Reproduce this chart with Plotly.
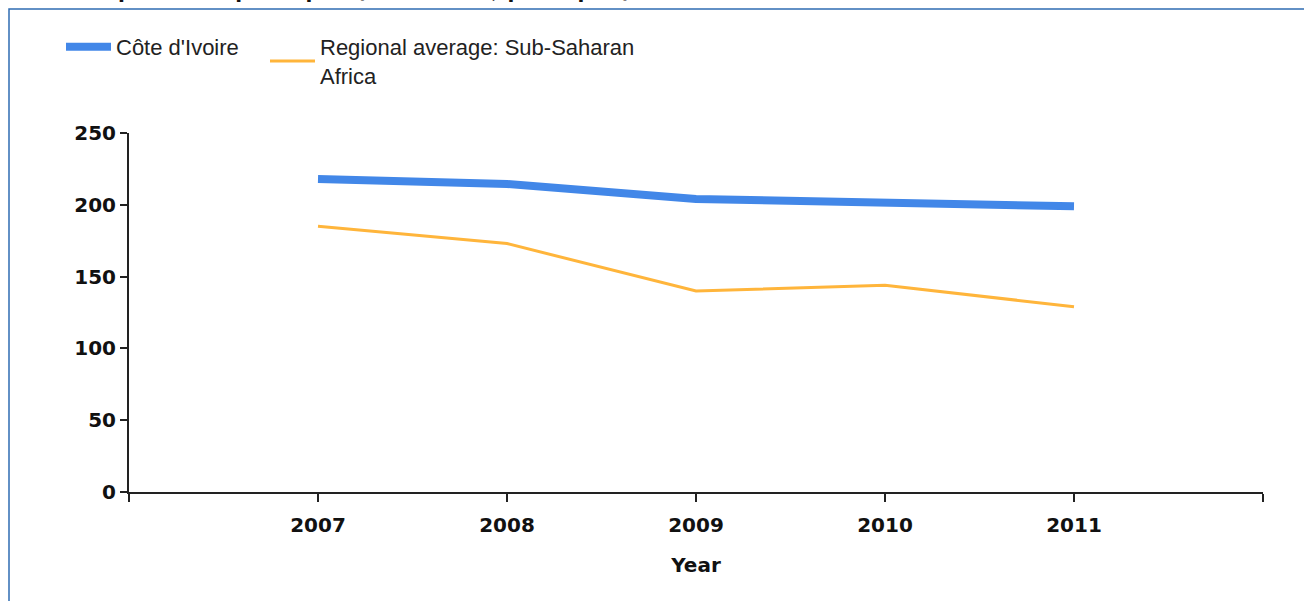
import plotly.graph_objects as go

years = [2007, 2008, 2009, 2010, 2011]
cote_divoire = [218, 214.5, 204, 201.5, 199]
ssa_average = [185, 173, 140, 144, 129]

x_tickvals = [2006, 2007, 2008, 2009, 2010, 2011, 2012]
x_ticktext = ["", "2007", "2008", "2009", "2010", "2011", ""]
y_tickvals = [0, 50, 100, 150, 200, 250]

W, H = 1304, 601
L, R, T, B = 129, 41, 133, 109
pw, ph = W - L - R, H - T - B


def px_x(p):
    return (p - L) / pw


def px_y(p):
    return (H - B - p) / ph


fig = go.Figure()

fig.add_trace(go.Scatter(
    x=years, y=cote_divoire,
    mode='lines',
    name="Côte d'Ivoire",
    line=dict(color='#4287e8', width=8),
    legend='legend',
))

fig.add_trace(go.Scatter(
    x=years, y=ssa_average,
    mode='lines',
    name="Regional average: Sub-Saharan<br>Africa",
    line=dict(color='#ffb53b', width=3),
    legend='legend2',
))

tickfont = dict(family='DejaVu Sans', size=20, color='#111111', weight='bold')
legfont = dict(family='Liberation Sans', size=22, color='#222222')

fig.update_layout(
    width=W, height=H,
    margin=dict(l=L, r=R, t=T, b=B, pad=0),
    plot_bgcolor='white', paper_bgcolor='white',
    showlegend=True,
    legend=dict(
        x=px_x(61), y=px_y(26), xanchor='left', yanchor='top',
        font=legfont, bgcolor='rgba(0,0,0,0)', valign='middle', itemwidth=45,
    ),
    legend2=dict(
        x=px_x(265), y=px_y(26), xanchor='left', yanchor='top',
        font=legfont, bgcolor='rgba(0,0,0,0)', valign='middle', itemwidth=45,
    ),
    xaxis=dict(
        range=[2006, 2012], tickvals=x_tickvals, ticktext=x_ticktext,
        showgrid=False, zeroline=False,
        showline=True, linecolor='#222222', linewidth=2,
        ticks='outside', ticklen=8, tickwidth=2, tickcolor='#222222',
        tickfont=tickfont, ticklabelstandoff=6,
        title=dict(text='Year', font=tickfont, standoff=22),
    ),
    yaxis=dict(
        range=[0, 250], tickvals=y_tickvals,
        showgrid=False, zeroline=False,
        showline=True, linecolor='#222222', linewidth=2,
        ticks='outside', ticklen=7, tickwidth=2, tickcolor='#222222',
        tickfont=tickfont,
    ),
    annotations=[dict(
        text='Health expenditure per capita (current US$ per capita)',
        font=dict(family='DejaVu Sans', size=20, color='#111111', weight='bold'),
        xref='paper', yref='paper', x=px_x(8), y=px_y(5),
        xanchor='left', yanchor='bottom', showarrow=False,
    )],
    shapes=[dict(
        type='rect', xref='paper', yref='paper',
        x0=px_x(9), y0=px_y(H + 20), x1=px_x(W + 20), y1=px_y(9),
        line=dict(color='#2f6cb3', width=1.5), layer='below',
    )],
)

# drop the page's default 8px body margin so the figure sits at the window corner
fig.write_html("out.html", config={'displayModeBar': False},
               post_script="document.body.style.margin='0';")
